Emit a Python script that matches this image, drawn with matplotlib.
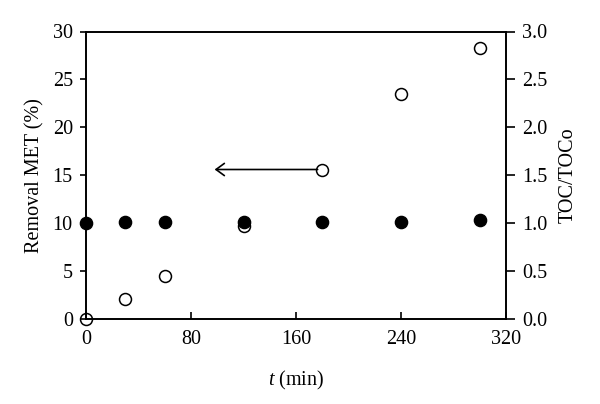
import matplotlib
matplotlib.use('Agg')
import matplotlib.pyplot as plt

plt.rcParams['font.family'] = ['Liberation Serif', 'DejaVu Serif']
plt.rcParams['mathtext.fontset'] = 'custom'
plt.rcParams['mathtext.it'] = 'Liberation Serif:italic'

# data
t_min = [0, 30, 60, 120, 180, 240, 300]
removal_met = [0.0, 2.05, 4.5, 9.7, 15.6, 23.5, 28.3]
toc_ratio = [1.0, 1.01, 1.01, 1.01, 1.01, 1.01, 1.03]

fig = plt.figure(figsize=(6, 4.04), dpi=100)
ax = fig.add_axes([86/600, 1 - 319/404, (506-86)/600, (319-31.5)/404])
ax2 = ax.twinx()

ax2.plot(t_min, toc_ratio, 'o', color='black', ms=8.8, zorder=3, clip_on=False)
ax.plot(t_min, removal_met, 'o', mfc='none', mec='black', mew=1.1, ms=8.6, zorder=4, clip_on=False)
ax.set_zorder(ax2.get_zorder() + 1)
ax.patch.set_visible(False)

ax.annotate('', xy=(98, 15.6), xytext=(176.5, 15.6),
            arrowprops=dict(arrowstyle='->,head_length=0.3,head_width=0.22',
                            color='black', lw=1.2, mutation_scale=20,
                            shrinkA=0, shrinkB=0))

ax.set_xlim(0, 320)
ax.set_ylim(0, 30)
ax2.set_ylim(0, 3.0)
ax.set_xticks([0, 80, 160, 240, 320])
ax.set_yticks(range(0, 31, 5))
ax2.set_yticks([0, 0.5, 1.0, 1.5, 2.0, 2.5, 3.0])
ax2.set_yticklabels(['0.0', '0.5', '1.0', '1.5', '2.0', '2.5', '3.0'])

fs = 14.5
ax.tick_params(axis='x', direction='in', length=5, width=1.2, labelsize=fs, pad=8)
ax.tick_params(axis='y', direction='out', length=4.5, width=1.2, labelsize=fs, pad=5)
ax2.tick_params(axis='y', direction='out', length=6.5, width=1.2, labelsize=fs, pad=5)

ax.set_xlabel('$t$ (min)', fontsize=fs, labelpad=14)
ax.set_ylabel('Removal MET (%)', fontsize=fs, labelpad=6)
ax2.set_ylabel('TOC/TOCo', fontsize=fs, labelpad=8)

for a in (ax, ax2):
    for s in a.spines.values():
        s.set_linewidth(1.2)

fig.savefig('out.png', dpi=100)
